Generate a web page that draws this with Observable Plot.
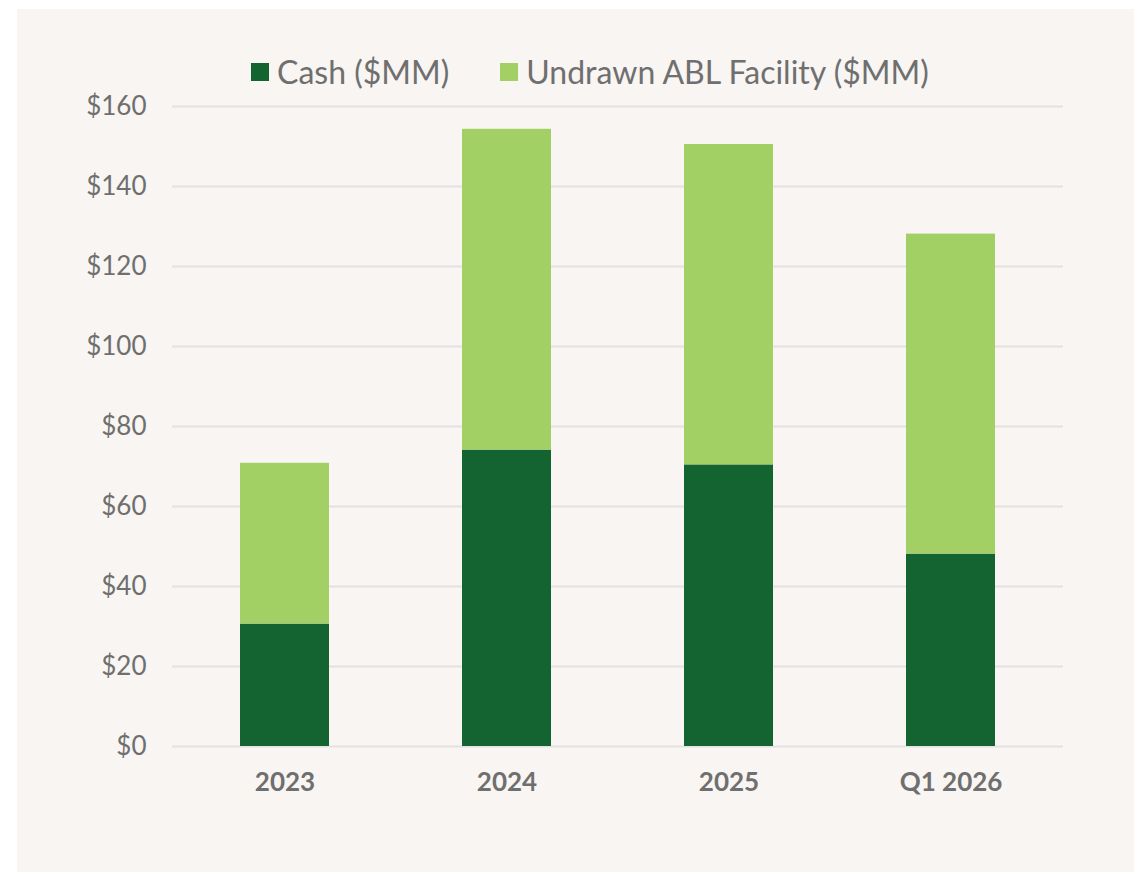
<!DOCTYPE html>
<html>
<head>
<meta charset="utf-8">
<script src="https://cdn.jsdelivr.net/npm/d3@7"></script>
<script src="https://cdn.jsdelivr.net/npm/@observablehq/plot@0.6"></script>
<style>
  html, body { margin: 0; padding: 0; background: #ffffff; }
  #panel { position: absolute; left: 17px; top: 9px; width: 1117px; height: 863px; background: #f8f5f2; font-family: Lato, "Open Sans", sans-serif; }
  #legend { position: absolute; left: 234px; top: 47px; display: flex; align-items: center; font-size: 32px; line-height: 32px; color: #6f6f6f; white-space: nowrap; }
  .item { display: flex; align-items: center; }
  .sw { width: 18px; height: 18px; margin-right: 8px; }
  #chart { position: absolute; left: 0; top: 81px; }
</style>
</head>
<body>
<div id="panel">
  <div id="legend"></div>
  <div id="chart"></div>
</div>
<script>
const categories = ["2023", "2024", "2025", "Q1 2026"];
const seriesNames = ["Cash ($MM)", "Undrawn ABL Facility ($MM)"];
const seriesColors = ["#146432", "#a2d065"];
const cash = [30.6, 74.1, 70.4, 48.1];
const undrawn = [40.2, 80.2, 80.1, 80.0];
const yTicks = [0, 20, 40, 60, 80, 100, 120, 140, 160];

const rows = [];
categories.forEach((c, i) => {
  rows.push({category: c, series: seriesNames[0], value: cash[i]});
  rows.push({category: c, series: seriesNames[1], value: undrawn[i]});
});

// legend
const legend = document.getElementById("legend");
seriesNames.forEach((name, i) => {
  const item = document.createElement("div");
  item.className = "item";
  if (i > 0) item.style.marginLeft = "51px";
  const sw = document.createElement("div");
  sw.className = "sw";
  sw.style.background = seriesColors[i];
  const t = document.createElement("span");
  t.textContent = name;
  item.appendChild(sw);
  item.appendChild(t);
  legend.appendChild(item);
});

const plot = Plot.plot({
  width: 1117,
  height: 740,
  marginLeft: 155,
  marginRight: 71,
  marginTop: 16,
  marginBottom: 84,
  style: {background: "transparent", color: "#6f6f6f", fontFamily: "Lato, 'Open Sans', sans-serif", fontSize: "26px", overflow: "visible"},
  x: {domain: categories, paddingInner: 0.6, paddingOuter: 0.3, label: null},
  y: {domain: [0, 160], label: null},
  color: {domain: seriesNames, range: seriesColors},
  marks: [
    Plot.ruleY(yTicks, {stroke: "#e4e2e1", strokeWidth: 2}),
    Plot.barY(rows, Plot.stackY({x: "category", y: "value", fill: "series", order: seriesNames})),
    Plot.axisY({ticks: yTicks, tickFormat: d => "$" + d, tickSize: 0, tickPadding: 26, fontSize: 26, label: null}),
    Plot.axisX({tickSize: 0, tickPadding: 26, fontSize: 26, fontWeight: "bold", label: null})
  ]
});
document.getElementById("chart").appendChild(plot);
</script>
</body>
</html>
